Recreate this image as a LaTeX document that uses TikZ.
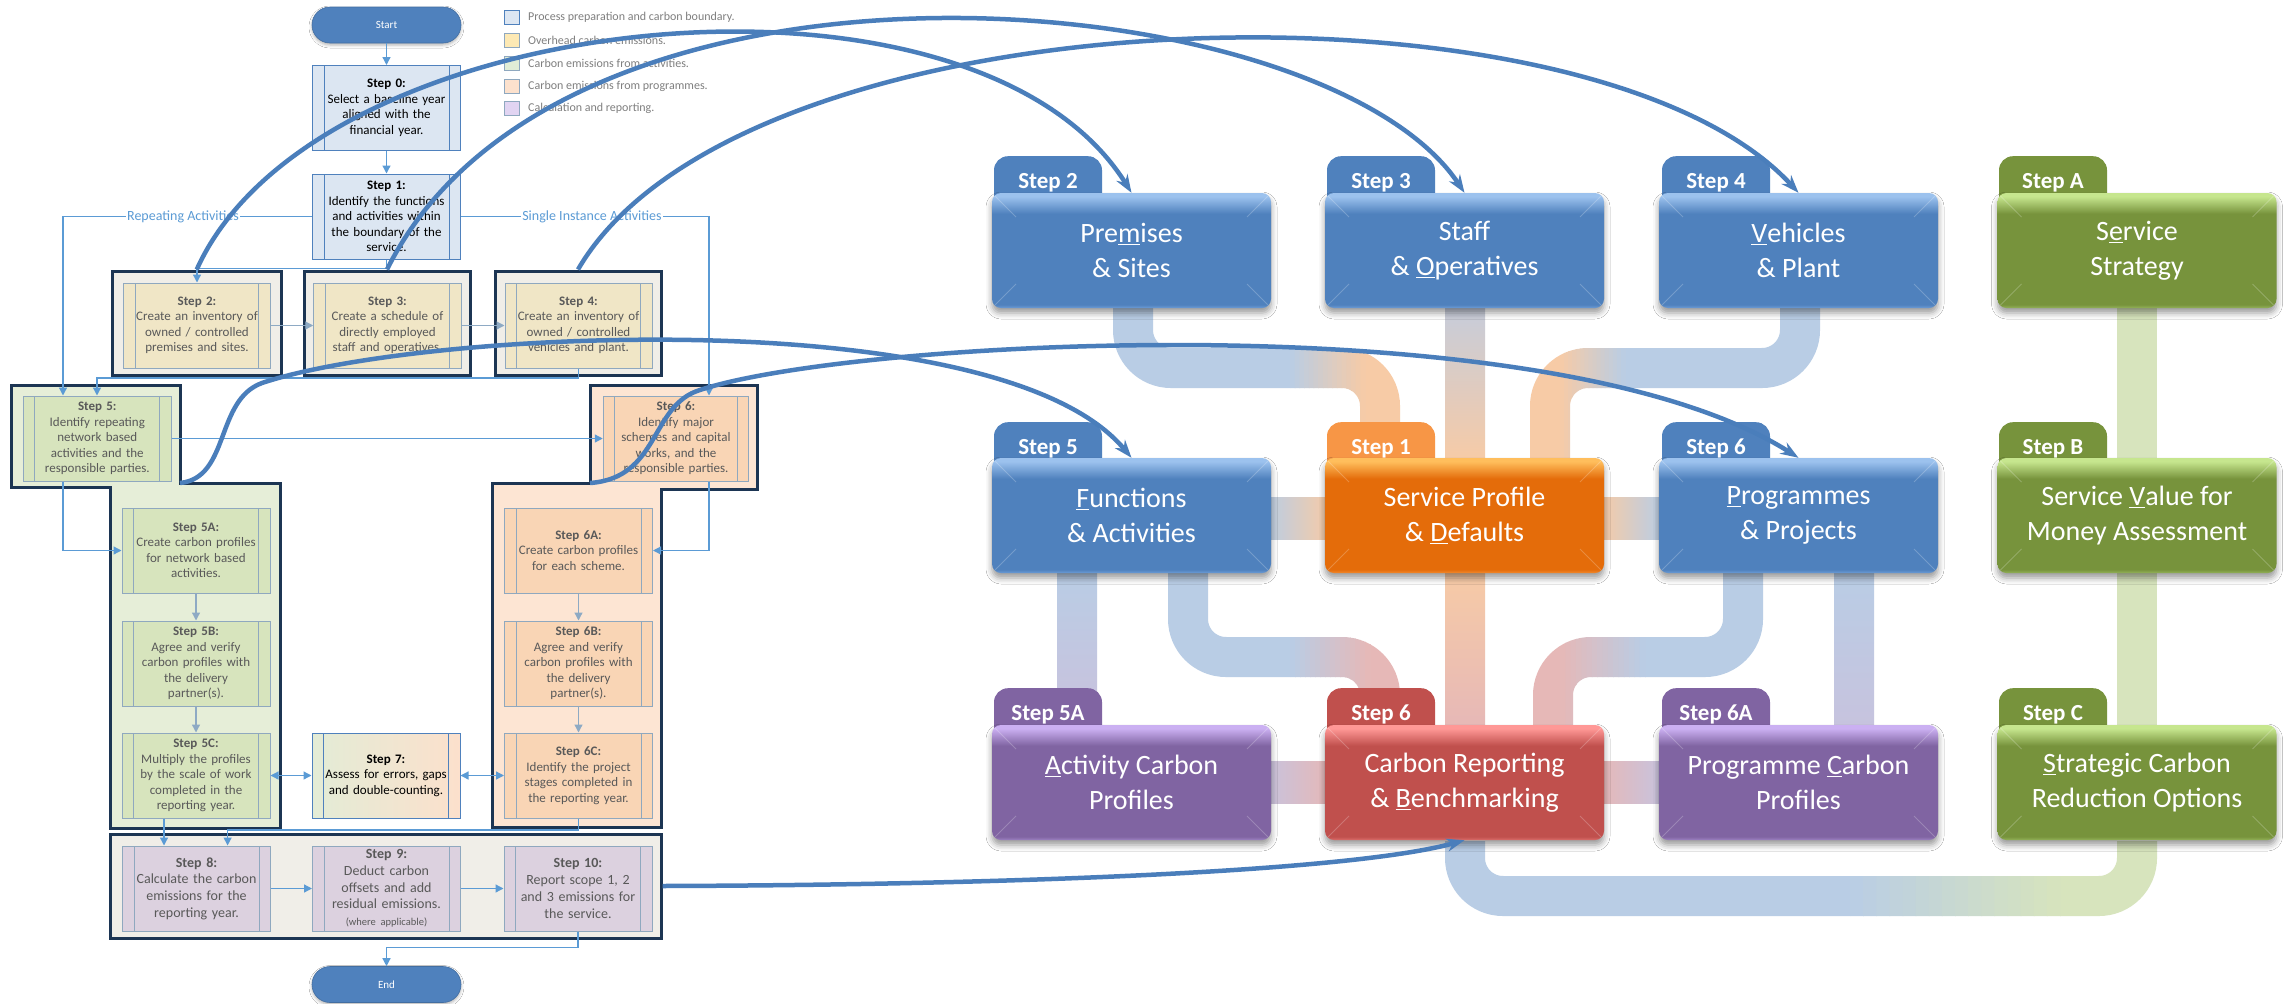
\documentclass[tikz,border=0pt]{standalone}
\usepackage{fontspec}
\setmainfont{Carlito}
\usetikzlibrary{arrows.meta,shadows.blur}

% flowchart colours
\definecolor{lnBlue}{HTML}{5B9BD5}
\definecolor{lnGrey}{HTML}{8EAAC4}
\definecolor{navy}{HTML}{1C3553}
\definecolor{fBlue}{HTML}{DCE6F2}
\definecolor{eBlue}{HTML}{4F81BD}
\definecolor{eGrey}{HTML}{8FA8BF}
\definecolor{fTan}{HTML}{F0E6C6}
\definecolor{fTanBg}{HTML}{F0EEE8}
\definecolor{fGreen}{HTML}{D7E4BD}
\definecolor{fGreenBg}{HTML}{E6EED8}
\definecolor{fPeach}{HTML}{F9D5B5}
\definecolor{fPeachBg}{HTML}{FDE5D3}
\definecolor{fMauve}{HTML}{DCD1DF}
\definecolor{sevL}{HTML}{E3ECD6}
\definecolor{sevR}{HTML}{FCE0CC}
\definecolor{txGrey}{HTML}{595959}
\definecolor{lgTxt}{HTML}{7F7F7F}
\definecolor{lgYellow}{HTML}{FDE9B4}
\definecolor{lgGreen}{HTML}{E1EDD6}
\definecolor{lgPeach}{HTML}{FCE1CD}
\definecolor{lgPurple}{HTML}{E1D4F2}
\definecolor{termBlue}{HTML}{4F81BD}
% map colours
\definecolor{bBlue}{HTML}{4F81BD}\definecolor{bBlueLt}{HTML}{9CC2EE}\definecolor{bBlueBt}{HTML}{6C9CD6}
\definecolor{bOrange}{HTML}{E46C0A}\definecolor{bOrangeLt}{HTML}{FFBE5C}\definecolor{bOrangeBt}{HTML}{F28A2E}
\definecolor{bRed}{HTML}{C0504D}\definecolor{bRedLt}{HTML}{FF9896}\definecolor{bRedBt}{HTML}{DB6E6B}
\definecolor{bPurple}{HTML}{8064A2}\definecolor{bPurpleLt}{HTML}{CBB0F2}\definecolor{bPurpleBt}{HTML}{9D82C2}
\definecolor{bGreen}{HTML}{77933C}\definecolor{bGreenLt}{HTML}{C6E68E}\definecolor{bGreenBt}{HTML}{93B25A}
\definecolor{tOrange}{HTML}{F79646}
\definecolor{pBlue}{HTML}{B9CDE5}
\definecolor{pBlueGrey}{HTML}{C4CCDD}
\definecolor{pOrange}{HTML}{F7CBA6}
\definecolor{pRed}{HTML}{E6B8B7}
\definecolor{pPurple}{HTML}{C7C3DE}
\definecolor{pGreen}{HTML}{D7E4BD}
\definecolor{cvBlue}{HTML}{4A7EBB}

\newcommand\fsz[2]{\fontsize{#1}{#2}\selectfont}

% bevelled box shadings: bottom edge, body, light top edge
\newcommand\mkboxshade[4]{%
  \pgfdeclareverticalshading{#1}{100bp}{color(0bp)=(#3); color(25bp)=(#3); color(26.5bp)=(#2); color(66bp)=(#2); color(73.5bp)=(#4); color(75bp)=(#4); color(100bp)=(#4)}}
\mkboxshade{shBlue}{bBlue}{bBlueBt}{bBlueLt}
\mkboxshade{shOrange}{bOrange}{bOrangeBt}{bOrangeLt}
\mkboxshade{shRed}{bRed}{bRedBt}{bRedLt}
\mkboxshade{shPurple}{bPurple}{bPurpleBt}{bPurpleLt}
\mkboxshade{shGreen}{bGreen}{bGreenBt}{bGreenLt}

% wide band whose colour changes from #2 to #3 between x=#4 and x=#5
\newcommand\gradband[5]{%
  \begin{scope}\clip (-50,-50) rectangle (#4,1100);\draw[band,draw=#2] #1;\end{scope}%
  \begin{scope}\clip (#5,-50) rectangle (2350,1100);\draw[band,draw=#3] #1;\end{scope}%
  \foreach \k in {0,...,15}{%
    \pgfmathsetmacro\xa{#4+(#5-#4)*\k/16}%
    \pgfmathsetmacro\xb{#4+(#5-#4)*(\k+1)/16+0.8}%
    \pgfmathsetmacro\pc{100*(\k+0.5)/16}%
    \begin{scope}\clip (\xa,-50) rectangle (\xb,1100);\draw[band,draw=#3!\pc!#2] #1;\end{scope}%
  }}

\begin{document}
\begin{tikzpicture}[x=1pt,y=-1pt,
  flowb/.style={draw=lnBlue, line width=1.3pt, -{Triangle[length=8pt,width=8pt]}},
  flowg/.style={draw=lnGrey, line width=1.3pt, -{Triangle[length=8pt,width=8pt]}},
  both/.style={draw=lnBlue, line width=1.3pt, {Triangle[length=8pt,width=8pt]}-{Triangle[length=8pt,width=8pt]}},
  procbox/.style n args={3}{rectangle, fill=#1, draw=#2, text=#3, line width=1pt,
    minimum width=148pt, minimum height=85pt, inner sep=0pt, text width=140pt,
    align=center, font=\fsz{13}{15.5},
    path picture={\draw[draw=#2, line width=1pt]
      ([xshift=11.5pt]path picture bounding box.north west) -- ([xshift=11.5pt]path picture bounding box.south west)
      ([xshift=-11.5pt]path picture bounding box.north east) -- ([xshift=-11.5pt]path picture bounding box.south east);}},
  contbox/.style={rectangle, draw=navy, line width=3pt, inner sep=0pt},
  cont/.style={draw=navy, line width=3pt, line join=miter},
  terminal/.style={rectangle, rounded corners=18pt, fill=termBlue, draw=termBlue!85!black, line width=.6pt,
    minimum width=149pt, minimum height=36pt, text=white, font=\fsz{11}{13},
    blur shadow={shadow xshift=0pt, shadow yshift=-2pt, shadow blur radius=3pt, shadow opacity=30}},
  lbl/.style={fill=white, inner sep=1.5pt, text=lnBlue, font=\fsz{14}{16}},
  lgsq/.style={rectangle, minimum width=15pt, minimum height=14pt, inner sep=0pt, line width=1pt},
  lgtxt/.style={anchor=west, inner sep=0pt, text=lgTxt, font=\fsz{12}{14}},
  band/.style={line width=40pt, rounded corners=38pt},
  tab/.style={rectangle, rounded corners=14pt, minimum width=108pt, minimum height=60pt, inner sep=0pt,
    anchor=north, text=white, font=\bfseries\fsz{23}{26}},
  bigbox/.style={rectangle, rounded corners=9pt, minimum width=279pt, minimum height=115pt, inner sep=0pt,
    text=white, align=center, font=\fsz{28}{35}, shade,
    blur shadow={shadow xshift=0pt, shadow yshift=-5pt, shadow blur radius=6pt, shadow opacity=40},
    path picture={\draw[white, opacity=.22, line width=1pt]
      (path picture bounding box.north west) -- ++(24pt,-24pt)
      (path picture bounding box.north east) -- ++(-24pt,-24pt)
      (path picture bounding box.south west) -- ++(24pt,24pt)
      (path picture bounding box.south east) -- ++(-24pt,24pt);}},
  bcurve/.style={draw=cvBlue, line width=4.5pt, -{Stealth[length=18pt,width=13pt]}}
]
\useasboundingbox (0,0) rectangle (2292,1004);
\fill[white] (0,0) rectangle (2292,1004);

%% ---------------- legend ----------------
\node[lgsq, fill=fBlue, draw=eBlue] (lg1) at (511.5,17.5) {};
\node[lgsq, fill=lgYellow, draw=eGrey] (lg2) at (511.5,40) {};
\node[lgsq, fill=lgGreen, draw=eGrey] (lg3) at (511.5,63) {};
\node[lgsq, fill=lgPeach, draw=eGrey] (lg4) at (511.5,86) {};
\node[lgsq, fill=lgPurple, draw=eGrey] (lg5) at (511.5,108) {};
\node[lgtxt] (lgt1) at (528,17.5) {Process preparation and carbon boundary.};
\node[lgtxt] (lgt2) at (528,40) {Overhead carbon emissions.};
\node[lgtxt] (lgt3) at (528,63) {Carbon emissions from activities.};
\node[lgtxt] (lgt4) at (528,86) {Carbon emissions from programmes.};
\node[lgtxt] (lgt5) at (528,108) {Calculation and reporting.};

%% ---------------- containers ----------------
\node[contbox, fill=fTanBg, minimum width=168.5pt, minimum height=104pt] (o2) at (196.75,323) {};
\node[contbox, fill=fTanBg, minimum width=166pt, minimum height=104pt] (o3) at (387,323) {};
\node[contbox, fill=fTanBg, minimum width=166pt, minimum height=104pt] (o4) at (578,323) {};
\draw[cont, fill=fGreenBg] (11,385) -- (180,385) -- (180,483) -- (280,483) -- (280,828)
  -- (110,828) -- (110,487) -- (11,487) -- cycle;
\coordinate (g5) at (180,483);
\draw[cont, fill=fPeachBg] (590,385) -- (757,385) -- (757,489) -- (661,489) -- (661,827)
  -- (492,827) -- (492,483) -- (590,483) -- cycle;
\coordinate (g6) at (590,483);
\node[contbox, fill=fTanBg, minimum width=551pt, minimum height=104pt] (o810) at (385.5,886) {};

%% ---------------- process steps ----------------
\node[terminal] (start) at (386.5,25) {Start};
\node[procbox={fBlue}{eBlue}{black}] (s0) at (386.5,108)
  {\textbf{Step 0:}\\Select a baseline year\\aligned with the\\financial year.};
\node[procbox={fBlue}{eBlue}{black}] (s1) at (386.5,216.5)
  {\textbf{Step 1:}\\Identify the functions\\and activities within\\the boundary of the\\service.};
\node[procbox={fTan}{eGrey}{txGrey}, minimum width=146.5pt] (s2) at (197,325.5)
  {\textbf{Step 2:}\\Create an inventory of\\owned / controlled\\premises and sites.};
\node[procbox={fTan}{eGrey}{txGrey}, minimum width=147.5pt] (s3) at (387.5,325.5)
  {\textbf{Step 3:}\\Create a schedule of\\directly employed\\staff and operatives.};
\node[procbox={fTan}{eGrey}{txGrey}, minimum width=147pt] (s4) at (578.5,325.5)
  {\textbf{Step 4:}\\Create an inventory of\\owned / controlled\\vehicles and plant.};
\node[procbox={fGreen}{eGrey}{txGrey}] (s5) at (97.3,438.5)
  {\textbf{Step 5:}\\Identify repeating\\network based\\activities and the\\responsible parties.};
\node[procbox={fPeach}{eGrey}{txGrey}, minimum width=145.5pt] (s6) at (676,438.5)
  {\textbf{Step 6:}\\Identify major\\schemes and capital\\works, and the\\responsible parties.};
\node[procbox={fGreen}{eGrey}{txGrey}] (s5a) at (196,550.5)
  {\textbf{Step 5A:}\\Create carbon profiles\\for network based\\activities.};
\node[procbox={fGreen}{eGrey}{txGrey}] (s5b) at (196,663.5)
  {\textbf{Step 5B:}\\Agree and verify\\carbon profiles with\\the delivery\\partner(s).};
\node[procbox={fGreen}{eGrey}{txGrey}] (s5c) at (196,775.5)
  {\textbf{Step 5C:}\\Multiply the profiles\\by the scale of work\\completed in the\\reporting year.};
\node[procbox={fPeach}{eGrey}{txGrey}] (s6a) at (578.5,550.5)
  {\textbf{Step 6A:}\\Create carbon profiles\\for each scheme.};
\node[procbox={fPeach}{eGrey}{txGrey}] (s6b) at (578.5,663.5)
  {\textbf{Step 6B:}\\Agree and verify\\carbon profiles with\\the delivery\\partner(s).};
\node[procbox={fPeach}{eGrey}{txGrey}] (s6c) at (578.5,775.5)
  {\textbf{Step 6C:}\\Identify the project\\stages completed in\\the reporting year.};
\node[procbox={fGreen}{eBlue}{black}, left color=sevL, right color=sevR] (s7) at (386,775.5)
  {\textbf{Step 7:}\\Assess for errors, gaps\\and double-counting.};
\node[procbox={fMauve}{eGrey}{txGrey}, font=\fsz{14}{16.7}] (s8) at (196.5,888.5)
  {\textbf{Step 8:}\\Calculate the carbon\\emissions for the\\reporting year.};
\node[procbox={fMauve}{eGrey}{txGrey}, font=\fsz{14}{16.7}] (s9) at (386.5,888.5)
  {\textbf{Step 9:}\\Deduct carbon\\offsets and add\\residual emissions.\\{\fsz{10.5}{14}(where applicable)}};
\node[procbox={fMauve}{eGrey}{txGrey}, font=\fsz{14}{16.7}] (s10) at (578,888.5)
  {\textbf{Step 10:}\\Report scope 1, 2\\and 3 emissions for\\the service.};
\node[terminal] (end) at (386.5,984.5) {End};

%% ---------------- flow connectors ----------------
\coordinate (cRep) at (63,0);
\coordinate (cSgl) at (709,0);
\coordinate (c45) at (97,378);
\coordinate (c58) at (164,0);
\coordinate (c68) at (227.6,830);
\draw[flowb] (start.south) -- (s0.north);
\draw[flowb] (s0.south) -- (s1.north);
\draw[flowb] (s1.west) -- (s1.west -| cRep) -- (s5.north -| cRep);
\draw[flowb] (s5.south -| cRep) -- (s5a.west -| cRep) -- (s5a.west);
\draw[flowb] (s1.east) -- (s1.east -| cSgl) -- (s6.north -| cSgl);
\draw[flowb] (s6.south -| cSgl) -- (s6a.east -| cSgl) -- (s6a.east);
\node[lbl] (replbl) at (183,216.5) {Repeating Activities};
\node[lbl] (sgllbl) at (592,216.5) {Single Instance Activities};
\draw[flowb] (s1.south) -- ++(0,9) -| (s2.north);
\draw[flowg] (s2.east) -- (s3.west);
\draw[flowg] (s3.east) -- (s4.west);
\draw[flowb] (s4.south) |- (c45) -- (c45 |- s5.north);
\draw[flowb] (s5.east) -- (s6.west);
\draw[flowg] (s5a.south) -- (s5b.north);
\draw[flowg] (s5b.south) -- (s5c.north);
\draw[flowg] (s6a.south) -- (s6b.north);
\draw[flowg] (s6b.south) -- (s6c.north);
\draw[both] (s5c.east) -- (s7.west);
\draw[both] (s7.east) -- (s6c.west);
\draw[flowb] (s5c.south -| c58) -- (s8.north -| c58);
\draw[flowb] (s6c.south) |- (c68) -- (c68 |- s8.north);
\draw[flowb] (s8.east) -- (s9.west);
\draw[flowb] (s9.east) -- (s10.west);
\draw[flowb] (s10.south) -- ++(0,16) -| (end.north);

%% ---------------- bands between the map boxes ----------------
\gradband{(1133,308) -- (1133,368) -- (1380,368) -- (1380,432)}{pBlue}{pOrange}{1290}{1365}
\gradband{(1800,308) -- (1800,368) -- (1550,368) -- (1550,462)}{pOrange}{pBlue}{1560}{1625}
\gradband{(1188,573) -- (1188,657) -- (1380,657) -- (1380,700)}{pBlue}{pRed}{1290}{1370}
\gradband{(1743,573) -- (1743,657) -- (1553,657) -- (1553,728)}{pRed}{pBlue}{1560}{1645}
\gradband{(1465,841) -- (1465,896) -- (2137,896) -- (2137,841)}{pBlue}{pGreen}{1850}{2060}
\shade[top color=pBlueGrey, bottom color=pOrange] (1445,300) rectangle (1485,462);
\shade[top color=pOrange, bottom color=pRed] (1445,570) rectangle (1485,728);
\shade[left color=pBlue, right color=pOrange] (1265,497) rectangle (1330,539);
\shade[left color=pOrange, right color=pBlue] (1600,497) rectangle (1662,539);
\shade[top color=pBlue, bottom color=pPurple] (1057,570) rectangle (1097,700);
\shade[top color=pBlue, bottom color=pPurple] (1834,570) rectangle (1874,728);
\shade[left color=pPurple, right color=pRed] (1265,761) rectangle (1330,803);
\shade[left color=pRed, right color=pPurple] (1600,761) rectangle (1662,803);
\fill[pGreen] (2117,300) rectangle (2157,462);
\fill[pGreen] (2117,570) rectangle (2157,728);

%% ---------------- map boxes ----------------
\node[tab, fill=bBlue] (tPrem) at (1048,156) {\raisebox{11pt}{Step 2}};
\node[tab, fill=bBlue] (tStaff) at (1381,156) {\raisebox{11pt}{Step 3}};
\node[tab, fill=bBlue] (tVeh) at (1716,156) {\raisebox{11pt}{Step 4}};
\node[tab, fill=bGreen] (tStrat) at (2053,156) {\raisebox{11pt}{Step A}};
\node[tab, fill=bBlue] (tFunc) at (1048,422) {\raisebox{11pt}{Step 5}};
\node[tab, fill=tOrange] (tProf) at (1381,422) {\raisebox{11pt}{Step 1}};
\node[tab, fill=bBlue] (tProg) at (1716,422) {\raisebox{11pt}{Step 6}};
\node[tab, fill=bGreen] (tVfm) at (2053,422) {\raisebox{11pt}{Step B}};
\node[tab, fill=bPurple] (tAct) at (1048,688) {\raisebox{11pt}{Step 5A}};
\node[tab, fill=bRed] (tRep) at (1381,688) {\raisebox{11pt}{Step 6}};
\node[tab, fill=bPurple] (tPcp) at (1716,688) {\raisebox{11pt}{Step 6A}};
\node[tab, fill=bGreen] (tRed) at (2053,688) {\raisebox{11pt}{Step C}};

\node[bigbox, shading=shBlue] (premises) at (1131.5,250.5) {Pre\underline{m}ises\\\& Sites};
\node[bigbox, shading=shBlue] (staff) at (1464.5,250.5) {Staff\\\& \underline{O}peratives};
\node[bigbox, shading=shBlue] (vehicles) at (1798.5,250.5) {\underline{V}ehicles\\\& Plant};
\node[bigbox, shading=shGreen] (strategy) at (2137,250.5) {S\underline{e}rvice\\Strategy};
\node[bigbox, shading=shBlue] (functions) at (1131.5,515.5) {\underline{F}unctions\\\& Activities};
\node[bigbox, shading=shOrange] (profile) at (1464.5,515.5) {Service Profile\\\& \underline{D}efaults};
\node[bigbox, shading=shBlue] (programmes) at (1798.5,515.5) {\underline{P}rogrammes\\\& Projects};
\node[bigbox, shading=shGreen] (vfm) at (2137,515.5) {Service \underline{V}alue for\\Money Assessment};
\node[bigbox, shading=shPurple] (actprof) at (1131.5,782.5) {\underline{A}ctivity Carbon\\Profiles};
\node[bigbox, shading=shRed] (reporting) at (1464.5,782.5) {Carbon Reporting\\\& \underline{B}enchmarking};
\node[bigbox, shading=shPurple] (progprof) at (1798.5,782.5) {Programme \underline{C}arbon\\Profiles};
\node[bigbox, shading=shGreen] (reduction) at (2137,782.5) {\underline{S}trategic Carbon\\Reduction Options};

%% ---------------- links from the process to the map ----------------
\draw[bcurve] (o2.north) .. controls (316,4) and (974,-60) .. (premises.north);
\draw[bcurve] (o3.north) .. controls (563,-84) and (1324,-19) .. (staff.north);
\draw[bcurve] (o4.north) .. controls (742,-12) and (1590,-34) .. (vehicles.north);
\draw[bcurve] (g5) .. controls (230,478) and (215,400) .. (262,383)
  .. controls (420,330) and (1000,300) .. (functions.north);
\draw[bcurve] (g6) .. controls (660,478) and (650,405) .. (700,390)
  .. controls (850,340) and (1550,300) .. (programmes.north);
\draw[bcurve] (o810.east) .. controls (1000,885) and (1350,872) .. (reporting.south);
\end{tikzpicture}
\end{document}
